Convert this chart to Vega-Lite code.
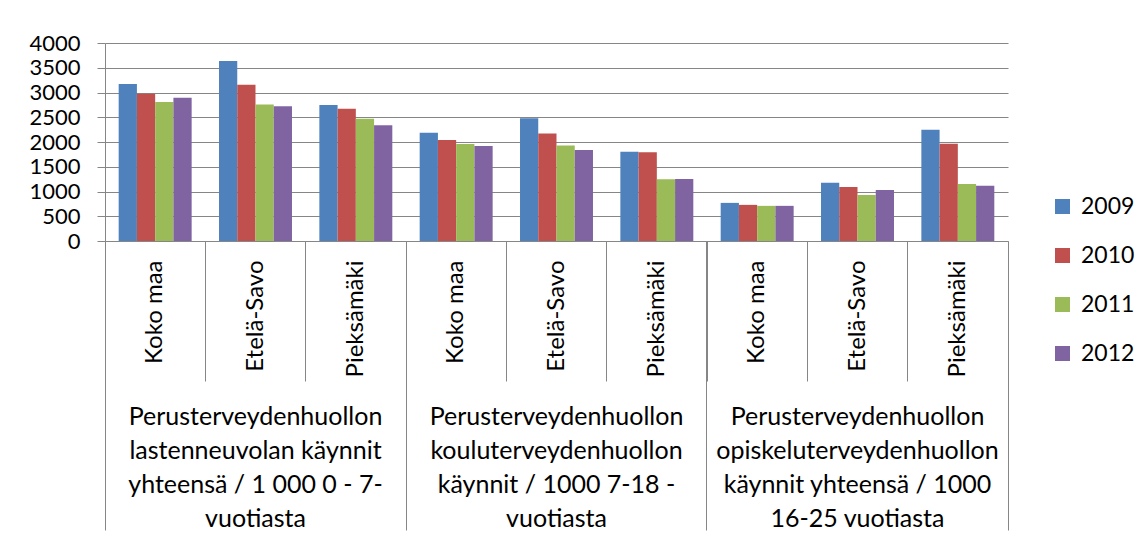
{
  "$schema": "https://vega.github.io/schema/vega-lite/v6.json",
  "width": 903,
  "height": 198,
  "autosize": {"type": "none"},
  "padding": {"left": 105, "top": 43, "right": 133, "bottom": 297},
  "background": "white",
  "config": {
    "font": "Lato",
    "view": {"stroke": null},
    "axis": {"labelColor": "black", "labelFont": "Lato", "domainColor": "#868686", "tickColor": "#868686", "gridColor": "#868686", "title": null}
  },
  "data": {
    "values": [
      {"slot": "Perusterveydenhuollon\nlastenneuvolan käynnit\nyhteensä / 1 000 0 - 7-\nvuotiasta|Koko maa", "year": "2009", "value": 3170},
      {"slot": "Perusterveydenhuollon\nlastenneuvolan käynnit\nyhteensä / 1 000 0 - 7-\nvuotiasta|Koko maa", "year": "2010", "value": 2975},
      {"slot": "Perusterveydenhuollon\nlastenneuvolan käynnit\nyhteensä / 1 000 0 - 7-\nvuotiasta|Koko maa", "year": "2011", "value": 2810},
      {"slot": "Perusterveydenhuollon\nlastenneuvolan käynnit\nyhteensä / 1 000 0 - 7-\nvuotiasta|Koko maa", "year": "2012", "value": 2895},
      {"slot": "Perusterveydenhuollon\nlastenneuvolan käynnit\nyhteensä / 1 000 0 - 7-\nvuotiasta|Etelä-Savo", "year": "2009", "value": 3635},
      {"slot": "Perusterveydenhuollon\nlastenneuvolan käynnit\nyhteensä / 1 000 0 - 7-\nvuotiasta|Etelä-Savo", "year": "2010", "value": 3155},
      {"slot": "Perusterveydenhuollon\nlastenneuvolan käynnit\nyhteensä / 1 000 0 - 7-\nvuotiasta|Etelä-Savo", "year": "2011", "value": 2760},
      {"slot": "Perusterveydenhuollon\nlastenneuvolan käynnit\nyhteensä / 1 000 0 - 7-\nvuotiasta|Etelä-Savo", "year": "2012", "value": 2720},
      {"slot": "Perusterveydenhuollon\nlastenneuvolan käynnit\nyhteensä / 1 000 0 - 7-\nvuotiasta|Pieksämäki", "year": "2009", "value": 2745},
      {"slot": "Perusterveydenhuollon\nlastenneuvolan käynnit\nyhteensä / 1 000 0 - 7-\nvuotiasta|Pieksämäki", "year": "2010", "value": 2670},
      {"slot": "Perusterveydenhuollon\nlastenneuvolan käynnit\nyhteensä / 1 000 0 - 7-\nvuotiasta|Pieksämäki", "year": "2011", "value": 2470},
      {"slot": "Perusterveydenhuollon\nlastenneuvolan käynnit\nyhteensä / 1 000 0 - 7-\nvuotiasta|Pieksämäki", "year": "2012", "value": 2340},
      {"slot": "Perusterveydenhuollon\nkouluterveydenhuollon\nkäynnit / 1000 7-18 -\nvuotiasta|Koko maa", "year": "2009", "value": 2185},
      {"slot": "Perusterveydenhuollon\nkouluterveydenhuollon\nkäynnit / 1000 7-18 -\nvuotiasta|Koko maa", "year": "2010", "value": 2040},
      {"slot": "Perusterveydenhuollon\nkouluterveydenhuollon\nkäynnit / 1000 7-18 -\nvuotiasta|Koko maa", "year": "2011", "value": 1960},
      {"slot": "Perusterveydenhuollon\nkouluterveydenhuollon\nkäynnit / 1000 7-18 -\nvuotiasta|Koko maa", "year": "2012", "value": 1920},
      {"slot": "Perusterveydenhuollon\nkouluterveydenhuollon\nkäynnit / 1000 7-18 -\nvuotiasta|Etelä-Savo", "year": "2009", "value": 2480},
      {"slot": "Perusterveydenhuollon\nkouluterveydenhuollon\nkäynnit / 1000 7-18 -\nvuotiasta|Etelä-Savo", "year": "2010", "value": 2170},
      {"slot": "Perusterveydenhuollon\nkouluterveydenhuollon\nkäynnit / 1000 7-18 -\nvuotiasta|Etelä-Savo", "year": "2011", "value": 1930},
      {"slot": "Perusterveydenhuollon\nkouluterveydenhuollon\nkäynnit / 1000 7-18 -\nvuotiasta|Etelä-Savo", "year": "2012", "value": 1840},
      {"slot": "Perusterveydenhuollon\nkouluterveydenhuollon\nkäynnit / 1000 7-18 -\nvuotiasta|Pieksämäki", "year": "2009", "value": 1805},
      {"slot": "Perusterveydenhuollon\nkouluterveydenhuollon\nkäynnit / 1000 7-18 -\nvuotiasta|Pieksämäki", "year": "2010", "value": 1795},
      {"slot": "Perusterveydenhuollon\nkouluterveydenhuollon\nkäynnit / 1000 7-18 -\nvuotiasta|Pieksämäki", "year": "2011", "value": 1250},
      {"slot": "Perusterveydenhuollon\nkouluterveydenhuollon\nkäynnit / 1000 7-18 -\nvuotiasta|Pieksämäki", "year": "2012", "value": 1255},
      {"slot": "Perusterveydenhuollon\nopiskeluterveydenhuollon\nkäynnit yhteensä / 1000\n16-25 vuotiasta|Koko maa", "year": "2009", "value": 770},
      {"slot": "Perusterveydenhuollon\nopiskeluterveydenhuollon\nkäynnit yhteensä / 1000\n16-25 vuotiasta|Koko maa", "year": "2010", "value": 730},
      {"slot": "Perusterveydenhuollon\nopiskeluterveydenhuollon\nkäynnit yhteensä / 1000\n16-25 vuotiasta|Koko maa", "year": "2011", "value": 710},
      {"slot": "Perusterveydenhuollon\nopiskeluterveydenhuollon\nkäynnit yhteensä / 1000\n16-25 vuotiasta|Koko maa", "year": "2012", "value": 710},
      {"slot": "Perusterveydenhuollon\nopiskeluterveydenhuollon\nkäynnit yhteensä / 1000\n16-25 vuotiasta|Etelä-Savo", "year": "2009", "value": 1175},
      {"slot": "Perusterveydenhuollon\nopiskeluterveydenhuollon\nkäynnit yhteensä / 1000\n16-25 vuotiasta|Etelä-Savo", "year": "2010", "value": 1090},
      {"slot": "Perusterveydenhuollon\nopiskeluterveydenhuollon\nkäynnit yhteensä / 1000\n16-25 vuotiasta|Etelä-Savo", "year": "2011", "value": 930},
      {"slot": "Perusterveydenhuollon\nopiskeluterveydenhuollon\nkäynnit yhteensä / 1000\n16-25 vuotiasta|Etelä-Savo", "year": "2012", "value": 1030},
      {"slot": "Perusterveydenhuollon\nopiskeluterveydenhuollon\nkäynnit yhteensä / 1000\n16-25 vuotiasta|Pieksämäki", "year": "2009", "value": 2245},
      {"slot": "Perusterveydenhuollon\nopiskeluterveydenhuollon\nkäynnit yhteensä / 1000\n16-25 vuotiasta|Pieksämäki", "year": "2010", "value": 1965},
      {"slot": "Perusterveydenhuollon\nopiskeluterveydenhuollon\nkäynnit yhteensä / 1000\n16-25 vuotiasta|Pieksämäki", "year": "2011", "value": 1150},
      {"slot": "Perusterveydenhuollon\nopiskeluterveydenhuollon\nkäynnit yhteensä / 1000\n16-25 vuotiasta|Pieksämäki", "year": "2012", "value": 1115}
    ]
  },
  "layer": [
    {
      "mark": {"type": "bar"},
      "encoding": {
        "x": {
          "field": "slot", "type": "nominal", "sort": null,
          "scale": {"paddingInner": 0, "paddingOuter": 0},
          "axis": {
            "orient": "bottom",
            "labelExpr": "split(datum.label, '|')[1]",
            "labelAngle": -90, "labelAlign": "right", "labelBaseline": "middle",
            "labelFontSize": 24, "labelPadding": -121, "tickSize": 140, "bandPosition": 0,
            "labelLimit": 400, "labelOverlap": false, "labelFlush": false, "labelBound": false, "grid": false
          }
        },
        "xOffset": {"field": "year", "type": "nominal", "scale": {"paddingInner": 0, "paddingOuter": 0.75}},
        "y": {
          "field": "value", "type": "quantitative",
          "scale": {"domain": [0, 4000], "nice": false},
          "axis": {
            "values": [0, 500, 1000, 1500, 2000, 2500, 3000, 3500, 4000],
            "format": "d",
            "grid": true, "tickSize": 8, "labelPadding": 17, "labelFontSize": 22, "labelOverlap": false, "labelFlush": false
          }
        },
        "color": {
          "field": "year", "type": "nominal",
          "scale": {"domain": ["2009", "2010", "2011", "2012"], "range": ["#4F81BD", "#C0504D", "#9BBB59", "#8064A2"]},
          "legend": {
            "orient": "none", "legendX": 946, "legendY": 152, "title": null,
            "symbolType": "square", "symbolSize": 225, "symbolStrokeWidth": 0,
            "labelFontSize": 23, "labelFont": "Lato", "labelColor": "black", "labelOffset": 7, "rowPadding": 25, "padding": 0
          }
        }
      }
    },
    {
      "mark": {"type": "rule", "strokeOpacity": 0},
      "encoding": {
        "x": {
          "field": "slot", "type": "nominal", "sort": null,
          "axis": {
            "orient": "bottom",
            "values": [
              "Perusterveydenhuollon\nlastenneuvolan käynnit\nyhteensä / 1 000 0 - 7-\nvuotiasta|Etelä-Savo",
              "Perusterveydenhuollon\nkouluterveydenhuollon\nkäynnit / 1000 7-18 -\nvuotiasta|Etelä-Savo",
              "Perusterveydenhuollon\nopiskeluterveydenhuollon\nkäynnit yhteensä / 1000\n16-25 vuotiasta|Etelä-Savo"
            ],
            "labelExpr": "split(split(datum.label, '|')[0], '\\n')",
            "labelAngle": 0, "labelAlign": "center", "labelBaseline": "top",
            "labelFontSize": 25, "labelLineHeight": 34, "labelPadding": -126,
            "tickSize": 289, "bandPosition": -1, "domain": false,
            "labelLimit": 400, "labelOverlap": false, "labelFlush": false, "labelBound": false, "grid": false
          }
        }
      }
    },
    {
      "mark": {"type": "rule", "strokeOpacity": 0},
      "encoding": {
        "x": {
          "field": "slot", "type": "nominal", "sort": null,
          "axis": {
            "orient": "bottom",
            "values": ["Perusterveydenhuollon\nopiskeluterveydenhuollon\nkäynnit yhteensä / 1000\n16-25 vuotiasta|Pieksämäki"],
            "labels": false, "tickSize": 289, "bandPosition": 1, "domain": false, "grid": false
          }
        }
      }
    }
  ],
  "resolve": {"axis": {"x": "independent"}}
}
